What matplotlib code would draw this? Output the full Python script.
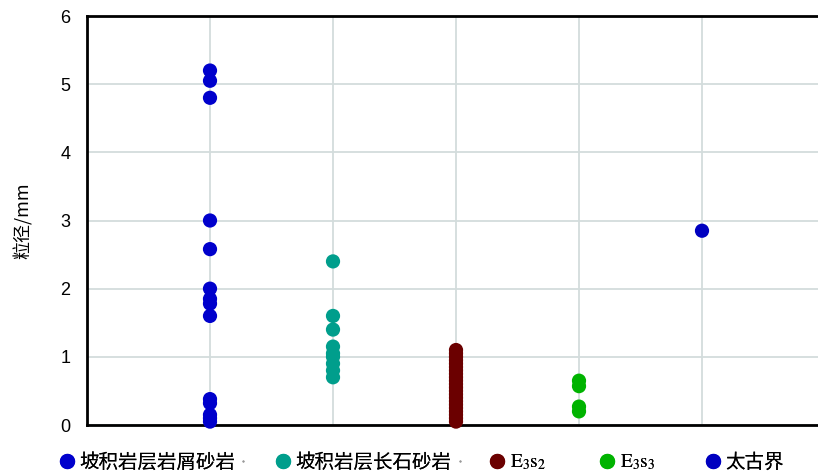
import matplotlib
matplotlib.use('Agg')
import matplotlib.pyplot as plt
from matplotlib.lines import Line2D

plt.rcParams['font.family'] = ['Noto Sans CJK SC', 'DejaVu Sans']
plt.rcParams['mathtext.fontset'] = 'stix'

# data
labels = ['坡积岩层岩屑砂岩', '坡积岩层长石砂岩', r'$\mathrm{E_3s_2}$', r'$\mathrm{E_3s_3}$', '太古界']
colors = ['#0000CC', '#009E8C', '#6B0000', '#00B300', '#0000C0']
yansui = [5.2, 5.05, 4.8, 3.0, 2.58, 2.0, 1.85, 1.78, 1.6, 0.38, 0.32, 0.15, 0.1, 0.05]
changshi = [2.4, 1.6, 1.4, 1.15, 1.05, 1.0, 0.9, 0.8, 0.7]
e3s2 = [1.1, 1.05, 1.0, 0.95, 0.9, 0.85, 0.8, 0.75, 0.7, 0.65, 0.6, 0.55,
        0.5, 0.45, 0.4, 0.35, 0.3, 0.25, 0.2, 0.15, 0.1, 0.05]
e3s3 = [0.65, 0.57, 0.27, 0.2]
taigu = [2.85]
series = [yansui, changshi, e3s2, e3s3, taigu]

# legend marker x positions (pixels) and the two stray dots
leg_x = [67, 283, 497, 607, 713]
dot_x = [243, 460]

fig = plt.figure(figsize=(8.18, 4.71), dpi=100)
ax = fig.add_axes([87/818, 46/471, 738/818, 409/471])

for i, vals in enumerate(series):
    ax.scatter([i + 1] * len(vals), vals, s=105, color=colors[i],
               edgecolors='none', zorder=3, clip_on=False)

ax.set_xlim(0, 6)
ax.set_ylim(0, 6)
ax.set_xticks([1, 2, 3, 4, 5])
ax.set_xticklabels([])
ax.tick_params(axis='x', length=0)
ax.tick_params(axis='y', length=0, pad=12, labelsize=13)
for t in ax.get_yticklabels():
    t.set_family(['Liberation Sans', 'DejaVu Sans'])
ax.grid(True, color='#d3dcdc', linewidth=1.3)
ax.set_axisbelow(True)
for side in ['top', 'left', 'bottom']:
    ax.spines[side].set_linewidth(2)
    ax.spines[side].set_color('black')
ax.spines['right'].set_visible(False)
ax.set_ylabel('粒径/mm', fontsize=13, labelpad=20)

fs = 14
half = 0.5 * fs * 100 / 72
for i in range(5):
    h = Line2D([], [], marker='o', linestyle='none', markersize=11,
               markerfacecolor=colors[i], markeredgecolor='none')
    lg = fig.legend([h], [labels[i]], loc='center left',
                    bbox_to_anchor=((leg_x[i] - half) / 818, 1 - 462 / 471),
                    frameon=False, fontsize=fs, handlelength=1.0,
                    handletextpad=0.15, borderpad=0, borderaxespad=0)
    fig.add_artist(lg)
for x in dot_x:
    d = Line2D([], [], marker='o', linestyle='none', markersize=1.5,
               markerfacecolor='#999999', markeredgecolor='none')
    lg = fig.legend([d], [''], loc='center left',
                    bbox_to_anchor=((x - half) / 818, 1 - 462 / 471),
                    frameon=False, fontsize=fs, handlelength=1.0,
                    handletextpad=0, borderpad=0, borderaxespad=0)
    fig.add_artist(lg)
fig.savefig('out.png', dpi=100)
